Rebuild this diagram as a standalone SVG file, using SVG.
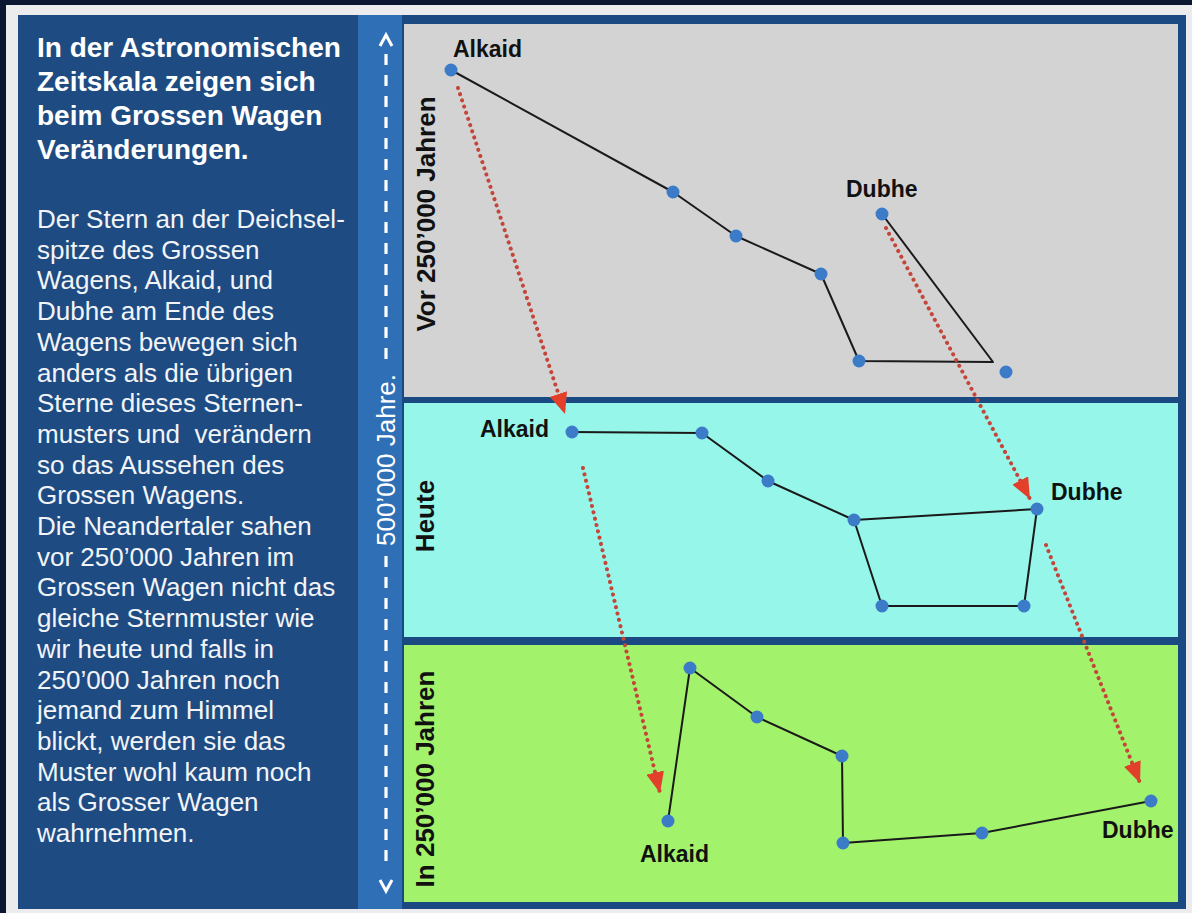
<svg xmlns="http://www.w3.org/2000/svg" width="1192" height="913" viewBox="0 0 1192 913">
<defs>
<style>
.title{font-family:"Liberation Sans",Arial,sans-serif;font-weight:bold;font-size:28px;fill:#ffffff}
.body{font-family:"Liberation Sans",Arial,sans-serif;font-size:26px;fill:#f2f4f8}
.plabel{font-family:"Liberation Sans",Arial,sans-serif;font-weight:bold;font-size:26px;fill:#111111}
.star{font-family:"Liberation Sans",Arial,sans-serif;font-weight:bold;font-size:23px;fill:#111111}
.tl{font-family:"Liberation Sans",Arial,sans-serif;font-size:26px;fill:#ffffff}
.con{fill:none;stroke:#1a1a1a;stroke-width:2;stroke-linejoin:round}
.dot{fill:#3b7bc8}
.move{fill:none;stroke:#c4453a;stroke-width:4;stroke-linecap:round;stroke-dasharray:0.1 6.4}
.dash{stroke:#ffffff;stroke-width:3.2;stroke-dasharray:11 10}
</style>
<marker id="ah" markerUnits="userSpaceOnUse" markerWidth="22" markerHeight="18" refX="21" refY="9" orient="auto">
<path d="M0,0 L21,9 L0,18 Z" fill="#e2402a"/>
</marker>
</defs>

<rect x="0" y="0" width="1192" height="913" fill="#ececee"/>
<rect x="0" y="0" width="1192" height="5" fill="#0b1631"/>
<rect x="0" y="0" width="6" height="913" fill="#0b1631"/>

<g id="text-panel">
<rect x="18" y="15" width="342" height="894" fill="#1e4c82"/>
<text class="title" x="37" y="57">In der Astronomischen</text>
<text class="title" x="37" y="91">Zeitskala zeigen sich</text>
<text class="title" x="37" y="125">beim Grossen Wagen</text>
<text class="title" x="37" y="159">Veränderungen.</text>
<text class="body" x="37" y="228">Der Stern an der Deichsel-</text>
<text class="body" x="37" y="258.7">spitze des Grossen</text>
<text class="body" x="37" y="289.4">Wagens, Alkaid, und</text>
<text class="body" x="37" y="320.1">Dubhe am Ende des</text>
<text class="body" x="37" y="350.8">Wagens bewegen sich</text>
<text class="body" x="37" y="381.5">anders als die übrigen</text>
<text class="body" x="37" y="412.2">Sterne dieses Sternen-</text>
<text class="body" x="37" y="442.9" xml:space="preserve">musters und  verändern</text>
<text class="body" x="37" y="473.6">so das Aussehen des</text>
<text class="body" x="37" y="504.3">Grossen Wagens.</text>
<text class="body" x="37" y="535">Die Neandertaler sahen</text>
<text class="body" x="37" y="565.7">vor 250’000 Jahren im</text>
<text class="body" x="37" y="596.4">Grossen Wagen nicht das</text>
<text class="body" x="37" y="627.1">gleiche Sternmuster wie</text>
<text class="body" x="37" y="657.8">wir heute und falls in</text>
<text class="body" x="37" y="688.5">250’000 Jahren noch</text>
<text class="body" x="37" y="719.2">jemand zum Himmel</text>
<text class="body" x="37" y="749.9">blickt, werden sie das</text>
<text class="body" x="37" y="780.6">Muster wohl kaum noch</text>
<text class="body" x="37" y="811.3">als Grosser Wagen</text>
<text class="body" x="37" y="842">wahrnehmen.</text>
</g>

<g id="timeline">
<rect x="358" y="15" width="44" height="894" fill="#2f6fb6"/>
<line class="dash" x1="386" y1="54" x2="386" y2="364"/>
<line class="dash" x1="386" y1="556" x2="386" y2="870"/>
<polyline points="380,46 386,35 392,46" fill="none" stroke="#ffffff" stroke-width="3"/>
<polyline points="380,880 386,891 392,880" fill="none" stroke="#ffffff" stroke-width="3"/>
<text class="tl" transform="translate(395,460) rotate(-90)" text-anchor="middle">500’000 Jahre.</text>
</g>

<g id="frame">
<rect x="402" y="15" width="784" height="894" fill="#1b4a82"/>
</g>

<g id="panel-past">
<rect x="404" y="24" width="774" height="373" fill="#d3d3d3"/>
<text class="plabel" transform="translate(435,214) rotate(-90)" text-anchor="middle">Vor 250’000 Jahren</text>
</g>
<g id="panel-today">
<rect x="404" y="403" width="774" height="234" fill="#95f6e9"/>
<text class="plabel" transform="translate(434,516) rotate(-90)" text-anchor="middle">Heute</text>
</g>
<g id="panel-future">
<rect x="404" y="645" width="774" height="257" fill="#a2f26b"/>
<text class="plabel" transform="translate(434,779) rotate(-90)" text-anchor="middle">In 250’000 Jahren</text>
</g>

<g id="connectors">
<polyline class="con" points="451,70 673,192 736,236 821,274 859,361 993,362 882,214"/>
<polyline class="con" points="572,432 702,433 768,481 854,520 1037,509 1024,606 882,606 854,520"/>
<polyline class="con" points="668,821 690,668 757,717 842,756 843,843 982,833 1151,801"/>
<line class="move" x1="458" y1="88" x2="565" y2="414" marker-end="url(#ah)"/>
<line class="move" x1="886" y1="228" x2="1030" y2="499" marker-end="url(#ah)"/>
<line class="move" x1="583" y1="468" x2="660" y2="793" marker-end="url(#ah)"/>
<line class="move" x1="1046" y1="545" x2="1140" y2="783" marker-end="url(#ah)"/>
</g>

<g id="stars-past">
<circle class="dot" cx="451" cy="70" r="6.5"/>
<circle class="dot" cx="673" cy="192" r="6.5"/>
<circle class="dot" cx="736" cy="236" r="6.5"/>
<circle class="dot" cx="821" cy="274" r="6.5"/>
<circle class="dot" cx="859" cy="361" r="6.5"/>
<circle class="dot" cx="1006" cy="372" r="6.5"/>
<circle class="dot" cx="882" cy="214" r="6.5"/>
<text class="star" x="453" y="57">Alkaid</text>
<text class="star" x="846" y="197">Dubhe</text>
</g>
<g id="stars-today">
<circle class="dot" cx="572" cy="432" r="6.5"/>
<circle class="dot" cx="702" cy="433" r="6.5"/>
<circle class="dot" cx="768" cy="481" r="6.5"/>
<circle class="dot" cx="854" cy="520" r="6.5"/>
<circle class="dot" cx="1037" cy="509" r="6.5"/>
<circle class="dot" cx="1024" cy="606" r="6.5"/>
<circle class="dot" cx="882" cy="606" r="6.5"/>
<text class="star" x="480" y="437">Alkaid</text>
<text class="star" x="1051" y="500">Dubhe</text>
</g>
<g id="stars-future">
<circle class="dot" cx="668" cy="821" r="6.5"/>
<circle class="dot" cx="690" cy="668" r="6.5"/>
<circle class="dot" cx="757" cy="717" r="6.5"/>
<circle class="dot" cx="842" cy="756" r="6.5"/>
<circle class="dot" cx="843" cy="843" r="6.5"/>
<circle class="dot" cx="982" cy="833" r="6.5"/>
<circle class="dot" cx="1151" cy="801" r="6.5"/>
<text class="star" x="640" y="862">Alkaid</text>
<text class="star" x="1102" y="838">Dubhe</text>
</g>
</svg>
